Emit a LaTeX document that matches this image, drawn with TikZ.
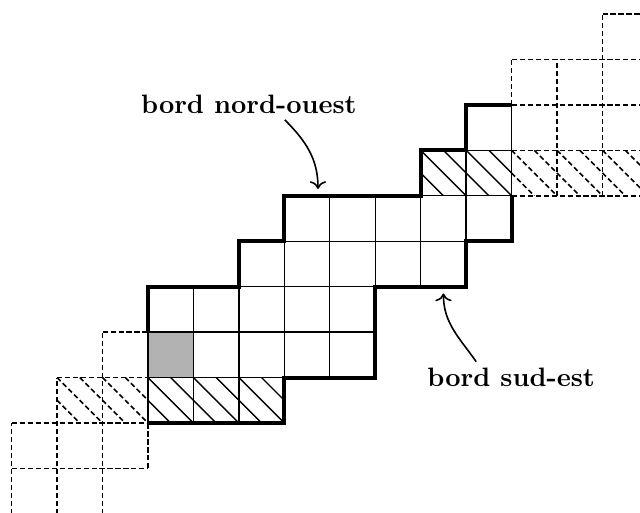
\documentclass[tikz,border=0pt]{standalone}
\usetikzlibrary{arrows.meta}
\begin{document}
\begin{tikzpicture}[x=0.6cm,y=0.6cm,
  cellline/.style={line width=0.5pt},
  dashcell/.style={line width=0.6pt, dash pattern=on 1.9pt off 1.1pt},
  borderline/.style={line width=1.5pt},
  lbltext/.style={font=\bfseries, inner sep=0pt},
  arrowline/.style={line width=0.6pt, -{To}}]
\useasboundingbox (-3.256,-1.958) rectangle (10.825,9.307);
\begin{scope}
\clip (-3.256,-1.958) rectangle (10.825,9.307);
% gray cell
\fill[black!30] (0,1) rectangle (1,2);
% dashed hatching
\begin{scope}
  \clip (-2,0) rectangle (0,1);
  \foreach \t in {-3,-2.5,...,-0.5} \draw[dashcell] (\t,1) -- (\t+1,0);
\end{scope}
\begin{scope}
  \clip (8,5) rectangle (11,6);
  \foreach \t in {7,7.5,...,10.5} \draw[dashcell] (\t,6) -- (\t+1,5);
\end{scope}
% dashed grid, lower left (each edge once)
\foreach \y/\a/\b in {2/-1/0, 1/-2/0, 0/-3/0, -1/-3/0, -2/-3/-1}
  \draw[dashcell] (\a,\y) -- (\b,\y);
\foreach \x/\a/\b in {0/-1/0, -1/-2/2, -2/-2/1, -3/-2/0}
  \draw[dashcell] (\x,\a) -- (\x,\b);
% dashed grid, upper right
\foreach \y/\a/\b in {5/8/11, 6/8/11, 7/8/11, 8/8/11, 9/10/11}
  \draw[dashcell] (\a,\y) -- (\b,\y);
\foreach \x/\a/\b in {8/7/8, 9/5/8, 10/5/9, 11/5/9}
  \draw[dashcell] (\x,\a) -- (\x,\b);
% solid hatching
\begin{scope}
  \clip (0,0) rectangle (3,1);
  \foreach \t in {-1,-0.5,...,2.5} \draw[cellline] (\t,1) -- (\t+1,0);
\end{scope}
\begin{scope}
  \clip (6,5) rectangle (8,6);
  \foreach \t in {5,5.5,...,7.5} \draw[cellline] (\t,6) -- (\t+1,5);
\end{scope}
% solid cells
\foreach \i/\j in {0/0,1/0,2/0,
                   0/1,1/1,2/1,3/1,4/1,
                   0/2,1/2,2/2,3/2,4/2,
                   2/3,3/3,4/3,5/3,6/3,
                   3/4,4/4,5/4,6/4,7/4,
                   6/5,7/5,7/6}
  \draw[cellline] (\i,\j) rectangle ++(1,1);
% borders
\draw[borderline] (0,2) -- (0,3) -- (2,3) -- (2,4) -- (3,4) -- (3,5) -- (6,5) -- (6,6) -- (7,6) -- (7,7) -- (8,7);
\draw[borderline] (0,0) -- (3,0) -- (3,1) -- (5,1) -- (5,3) -- (7,3) -- (7,4) -- (8,4) -- (8,5);
\end{scope}
% labels
\node[lbltext, anchor=base] (nwlabel) at (2.22,6.82) {bord nord-ouest};
\node[lbltext, anchor=base] (selabel) at (7.99,0.81) {bord sud-est};
\coordinate (nwstart) at (3.01,6.67);
\coordinate (nwtip) at (3.74,5.15);
\coordinate (sestart) at (7.22,1.35);
\coordinate (setip) at (6.5,2.85);
\draw[arrowline] (nwstart) to[out=-45,in=90] (nwtip);
\draw[arrowline] (sestart) to[out=125,in=-90] (setip);
\end{tikzpicture}
\end{document}
